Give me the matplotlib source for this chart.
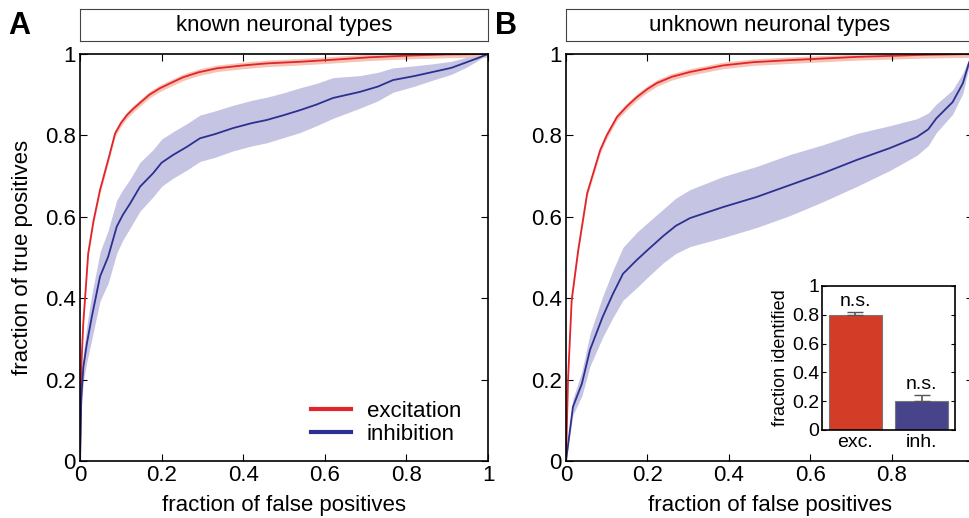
import numpy as np
import matplotlib.pyplot as plt

plt.rcParams['font.family'] = ['Liberation Sans', 'DejaVu Sans']

# panel A: known neuronal types
a_exc_x = [0, 0.002, 0.004, 0.008, 0.012, 0.02, 0.033, 0.049, 0.069, 0.086, 0.10, 0.115,
           0.13, 0.147, 0.17, 0.196, 0.225, 0.253, 0.29, 0.336, 0.40, 0.458, 0.54, 0.62,
           0.71, 0.80, 0.90, 1.0]
a_exc_y = [0, 0.15, 0.25, 0.34, 0.395, 0.51, 0.59, 0.666, 0.74, 0.805, 0.83, 0.85,
           0.865, 0.88, 0.90, 0.916, 0.93, 0.943, 0.955, 0.965, 0.972, 0.977, 0.981, 0.986,
           0.992, 0.996, 0.999, 1.0]
a_inh_x = [0, 0.003, 0.008, 0.017, 0.029, 0.049, 0.069, 0.09, 0.105, 0.123, 0.147, 0.179,
           0.20, 0.228, 0.262, 0.294, 0.33, 0.375, 0.42, 0.458, 0.50, 0.539, 0.58, 0.62,
           0.686, 0.73, 0.767, 0.82, 0.865, 0.91, 0.948, 0.975, 1.0]
a_inh_y = [0, 0.15, 0.23, 0.29, 0.355, 0.453, 0.502, 0.576, 0.605, 0.633, 0.674, 0.707,
           0.733, 0.752, 0.772, 0.793, 0.803, 0.818, 0.83, 0.838, 0.85, 0.862, 0.876, 0.892,
           0.907, 0.92, 0.936, 0.946, 0.956, 0.966, 0.98, 0.99, 1.0]
a_inh_err = [0, 0.02, 0.035, 0.045, 0.055, 0.06, 0.065, 0.065, 0.062, 0.06, 0.06, 0.058,
             0.058, 0.057, 0.057, 0.057, 0.057, 0.056, 0.056, 0.056, 0.055, 0.055, 0.052, 0.05,
             0.04, 0.035, 0.03, 0.025, 0.02, 0.016, 0.012, 0.006, 0]

# panel B: unknown neuronal types
b_exc_x = [0, 0.005, 0.014, 0.03, 0.052, 0.084, 0.10, 0.125, 0.15, 0.174, 0.20, 0.224,
           0.26, 0.305, 0.386, 0.46, 0.55, 0.715, 0.88, 1.0]
b_exc_y = [0, 0.20, 0.396, 0.518, 0.658, 0.764, 0.80, 0.845, 0.872, 0.894, 0.914, 0.929,
           0.944, 0.956, 0.972, 0.98, 0.985, 0.993, 0.998, 1.0]
b_inh_x = [0, 0.017, 0.039, 0.059, 0.09, 0.115, 0.14, 0.174, 0.2, 0.239, 0.27, 0.305,
           0.386, 0.469, 0.55, 0.631, 0.715, 0.796, 0.862, 0.89, 0.91, 0.95, 0.975, 0.99, 1.0]
b_inh_y = [0, 0.133, 0.19, 0.273, 0.354, 0.41, 0.46, 0.494, 0.518, 0.553, 0.578, 0.597,
           0.624, 0.649, 0.678, 0.707, 0.74, 0.769, 0.796, 0.815, 0.842, 0.882, 0.928, 0.978, 1.0]
b_inh_err = [0, 0.02, 0.03, 0.04, 0.05, 0.058, 0.065, 0.068, 0.067, 0.066, 0.068, 0.07,
             0.075, 0.075, 0.075, 0.07, 0.065, 0.055, 0.045, 0.04, 0.035, 0.03, 0.025, 0.01, 0]

# inset bars
bar_labels = ['exc.', 'inh.']
bar_vals = [0.80, 0.20]
bar_errs = [0.02, 0.04]

red = '#E1252B'
red_band = '#F7C3B4'
blue = '#2C3090'
blue_band = '#C6C4E3'

fig = plt.figure(figsize=(9.7, 5.18), dpi=100)

ax_a = fig.add_axes([0.0825, 0.110, 0.4206, 0.7857])
ax_b = fig.add_axes([0.5835, 0.110, 0.4196, 0.7857])

ticks = [0, 0.2, 0.4, 0.6, 0.8, 1]
tick_labels = ['0', '0.2', '0.4', '0.6', '0.8', '1']


def roc_panel(ax, ex, ey, ix, iy, ierr):
    ey = np.array(ey)
    iy = np.array(iy)
    ierr = np.array(ierr)
    ax.fill_between(ex, np.clip(ey - 0.008, 0, 1), np.clip(ey + 0.008, 0, 1),
                    color=red_band, lw=0)
    ax.fill_between(ix, np.clip(iy - ierr, 0, 1), np.clip(iy + ierr, 0, 1),
                    color=blue_band, lw=0)
    ax.plot(ex, ey, color=red, lw=1.3, label='excitation')
    ax.plot(ix, iy, color=blue, lw=1.3, label='inhibition')
    ax.set_xlim(0, 1)
    ax.set_ylim(0, 1)
    ax.set_xticks(ticks)
    ax.set_xticklabels(tick_labels)
    ax.set_yticks(ticks)
    ax.set_yticklabels(tick_labels)
    ax.tick_params(direction='in', top=True, right=True, labelsize=16, length=5,
                   width=0.8, pad=3)
    ax.set_xlabel('fraction of false positives', fontsize=16)
    ax.xaxis.set_label_coords(0.5, -0.083)
    for s in ax.spines.values():
        s.set_linewidth(1.2)


roc_panel(ax_a, a_exc_x, a_exc_y, a_inh_x, a_inh_y, a_inh_err)
roc_panel(ax_b, b_exc_x, b_exc_y, b_inh_x, b_inh_y, b_inh_err)
ax_b.set_xticklabels(tick_labels[:-1] + [''])
ax_a.set_ylabel('fraction of true positives', fontsize=16)
ax_a.yaxis.set_label_coords(-0.115, 0.5)

leg = ax_a.legend(loc='lower right', bbox_to_anchor=(1 - 27 / 408, 16 / 407),
                  frameon=False, fontsize=16, handlelength=1.8, handletextpad=0.7,
                  borderaxespad=0, borderpad=0, labelspacing=0.1)
for ln in leg.get_lines():
    ln.set_linewidth(3)

# title boxes
for left, width, title in [(0.0825, 0.4206, 'known neuronal types'),
                           (0.5835, 0.4196, 'unknown neuronal types')]:
    tb = fig.add_axes([left, 0.9208, width, 0.0618])
    tb.set_xticks([])
    tb.set_yticks([])
    for s in tb.spines.values():
        s.set_linewidth(0.8)
        s.set_color('#444444')
    tb.text(0.5, 0.5, title, ha='center', va='center', fontsize=16, transform=tb.transAxes)

fig.text(0.009, 0.950, 'A', fontsize=22, fontweight='bold', va='center')
fig.text(0.510, 0.950, 'B', fontsize=22, fontweight='bold', va='center')

# inset
ins = fig.add_axes([0.8474, 0.1699, 0.1371, 0.278])
pos = np.arange(1, len(bar_vals) + 1)
ins.bar(pos, bar_vals, width=0.8, color=['#D33C27', '#48448C'], edgecolor='#777777',
        linewidth=0.8)
ins.errorbar(pos, bar_vals, yerr=[[0, 0], bar_errs], fmt='none', ecolor='#555555',
             elinewidth=1.2, capsize=6)
for p, v, e in zip(pos, bar_vals, bar_errs):
    ins.text(p, v + e + 0.015, 'n.s.', ha='center', va='bottom', fontsize=14)
ins.set_xlim(0.5, 2.5)
ins.set_ylim(0, 1)
ins.set_xticks(pos)
ins.set_xticklabels(bar_labels)
ins.set_yticks(ticks)
ins.set_yticklabels(tick_labels)
ins.tick_params(direction='in', labelsize=14, length=0, pad=3)
ins.tick_params(axis='y', length=3, right=True, pad=2)
ins.set_ylabel('fraction identified', fontsize=13, labelpad=2)
for s in ins.spines.values():
    s.set_linewidth(1.2)

fig.savefig('out.png', dpi=100)
